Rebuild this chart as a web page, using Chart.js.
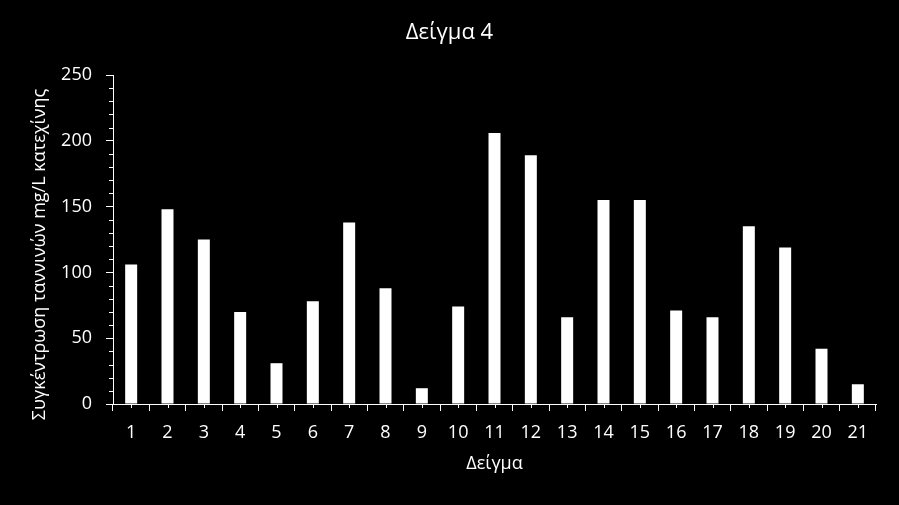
<!DOCTYPE html>
<html lang="el">
<head>
<meta charset="utf-8">
<title>Δείγμα 4</title>
<script src="https://cdn.jsdelivr.net/npm/chart.js@4/dist/chart.umd.min.js"></script>
<style>
  html, body { margin: 0; padding: 0; background: #000; }
  #wrap { width: 899px; height: 505px; }
</style>
</head>
<body>
<div id="wrap"><canvas id="chart" width="899" height="505"></canvas></div>
<script>
'use strict';

// ============================================================
// 1. DATA — tannin concentration per sample
// ============================================================
const SAMPLES = ['1','2','3','4','5','6','7','8','9','10','11','12','13','14','15','16','17','18','19','20','21'];
const TANNINS = [106, 148, 125, 70, 31, 78, 138, 88, 12, 74, 206, 189, 66, 155, 155, 71, 66, 135, 119, 42, 15];

const CHART_TITLE = 'Δείγμα 4';
const X_TITLE = 'Δείγμα';
const Y_TITLE = 'Συγκέντρωση ταννινών mg/L κατεχίνης';

const Y_MIN = 0;
const Y_MAX = 250;
const Y_STEP = 50;
const Y_MINOR_STEP = 10;

// ============================================================
// 2. STYLE
// ============================================================
const FG = '#ffffff';
const FONT = "'Open Sans', 'Noto Sans', sans-serif";
const MAJOR_TICK = 7;
const MINOR_TICK = 4;

/** Paint the canvas black */
const blackBackground = {
  id: 'blackBackground',
  beforeDraw(chart) {
    const ctx = chart.ctx;
    ctx.save();
    ctx.fillStyle = '#000';
    ctx.fillRect(0, 0, chart.width, chart.height);
    ctx.restore();
  }
};

/** Minor tick marks: every 10 on y, category centres on x */
const minorTicks = {
  id: 'minorTicks',
  afterDraw(chart) {
    const ctx = chart.ctx;
    const xs = chart.scales.x;
    const ys = chart.scales.y;
    const left = Math.round(chart.chartArea.left);
    const bottom = Math.round(chart.chartArea.bottom);
    ctx.save();
    ctx.strokeStyle = FG;
    ctx.lineWidth = 1;
    ctx.beginPath();
    for (let v = Y_MIN; v <= Y_MAX; v += Y_MINOR_STEP) {
      if (v % Y_STEP === 0) continue;
      const y = Math.round(ys.getPixelForValue(v)) + 0.5;
      ctx.moveTo(left - MINOR_TICK, y);
      ctx.lineTo(left, y);
    }
    SAMPLES.forEach((_, i) => {
      const x = Math.round(xs.getPixelForValue(i)) + 0.5;
      ctx.moveTo(x, bottom);
      ctx.lineTo(x, bottom + MINOR_TICK);
    });
    ctx.stroke();
    ctx.restore();
  }
};

/** Vertical axis title, sitting a little below the plot centre like the original */
const yAxisTitle = {
  id: 'yAxisTitle',
  afterDraw(chart) {
    const ctx = chart.ctx;
    const ys = chart.scales.y;
    const cy = (ys.top + ys.bottom) / 2 + 15;
    ctx.save();
    ctx.translate(ys.left + 40, cy);
    ctx.rotate(-Math.PI / 2);
    ctx.fillStyle = FG;
    ctx.font = `18px ${FONT}`;
    ctx.textAlign = 'center';
    ctx.textBaseline = 'middle';
    ctx.fillText(Y_TITLE, 0, 0);
    ctx.restore();
  }
};

// ============================================================
// 3. CHART
// ============================================================
new Chart(document.getElementById('chart'), {
  type: 'bar',
  data: {
    labels: SAMPLES,
    datasets: [{
      data: TANNINS,
      backgroundColor: FG,
      borderWidth: 0,
      barPercentage: 0.33,
      categoryPercentage: 1.0,
    }]
  },
  options: {
    responsive: false,
    animation: false,
    devicePixelRatio: 1,
    layout: { padding: 0 },
    plugins: {
      legend: { display: false },
      tooltip: { enabled: false },
      title: {
        display: true,
        text: CHART_TITLE,
        color: FG,
        font: { family: FONT, size: 22, weight: 'normal' },
        padding: { top: 20, bottom: 28.6 },
      },
    },
    scales: {
      x: {
        grid: {
          offset: true,
          drawOnChartArea: false,
          drawTicks: true,
          tickLength: MAJOR_TICK,
          color: FG,
        },
        border: { display: true, color: FG, width: 1 },
        ticks: {
          color: FG,
          padding: 11,
          maxRotation: 0,
          autoSkip: false,
          font: { family: FONT, size: 18 },
        },
        title: {
          display: true,
          text: X_TITLE,
          color: FG,
          font: { family: FONT, size: 18 },
          padding: { top: 0, bottom: 30 },
        },
        afterFit(scale) { scale.height = 101; },
      },
      y: {
        min: Y_MIN,
        max: Y_MAX,
        grid: {
          drawOnChartArea: false,
          drawTicks: true,
          tickLength: MAJOR_TICK,
          color: FG,
        },
        border: { display: true, color: FG, width: 1 },
        ticks: {
          stepSize: Y_STEP,
          color: FG,
          padding: 14,
          font: { family: FONT, size: 18 },
        },
        title: { display: false },
        afterFit(scale) { scale.width = 113; },
      },
      // empty strip on the right so the plot ends where the original does
      gutter: {
        axis: 'y',
        position: 'right',
        display: true,
        grid: { display: false },
        border: { display: false },
        ticks: { display: false },
        afterFit(scale) { scale.width = 23; },
      },
    },
  },
  plugins: [blackBackground, minorTicks, yAxisTitle],
});
</script>
</body>
</html>
